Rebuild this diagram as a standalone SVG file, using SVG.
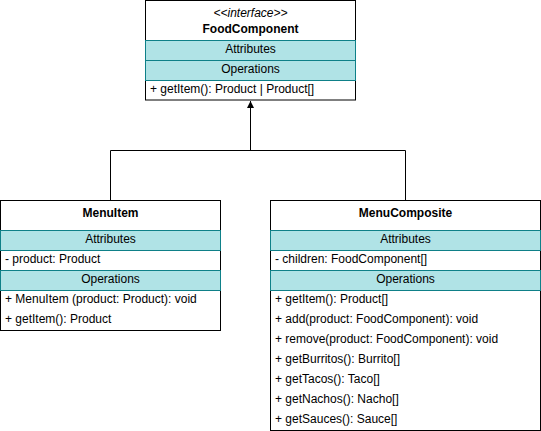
<svg xmlns="http://www.w3.org/2000/svg" width="541" height="431" viewBox="0 0 541 431">
<style>
.box{fill:#ffffff;stroke:#000000;stroke-width:1}
.band{fill:#b0e3e6;stroke:#0e8088;stroke-width:1}
text{font-family:"Liberation Sans",Arial,sans-serif;font-size:12px;fill:#000000}
.c{text-anchor:middle}
.b{font-weight:bold}
.i{font-style:italic}
.conn{fill:none;stroke:#000000;stroke-width:1}
</style>
<defs>
<marker id="arr" viewBox="0 0 10 10" refX="10" refY="5" markerWidth="7" markerHeight="7" orient="auto" markerUnits="userSpaceOnUse">
<path d="M0,0 L10,5 L0,10 z" fill="#000000"/>
</marker>
</defs>
<g id="connectors">
<path class="conn" d="M110.5,200 L110.5,150.5 L405.5,150.5 L405.5,200" />
<path class="conn" d="M250.5,150.5 L250.5,101" marker-end="url(#arr)"/>
</g>
<g id="FoodComponent">
<rect class="box" x="145.5" y="0.5" width="210" height="99.5"/>
<text class="c i" x="250.5" y="17">&lt;&lt;interface&gt;&gt;</text>
<text class="c b" x="250.5" y="33">FoodComponent</text>
<rect class="band" x="145.5" y="40.5" width="210" height="20"/>
<text class="c" x="250.5" y="53">Attributes</text>
<rect class="band" x="145.5" y="60.5" width="210" height="20"/>
<text class="c" x="250.5" y="73">Operations</text>
<text x="150" y="93">+ getItem(): Product | Product[]</text>
</g>
<g id="MenuItem">
<rect class="box" x="0.5" y="200.5" width="220" height="130"/>
<text class="c b" x="110.5" y="217">MenuItem</text>
<rect class="band" x="0.5" y="230.5" width="220" height="20"/>
<text class="c" x="110.5" y="243">Attributes</text>
<text x="5" y="263">- product: Product</text>
<rect class="band" x="0.5" y="270.5" width="220" height="20"/>
<text class="c" x="110.5" y="283">Operations</text>
<text x="5" y="303">+ MenuItem (product: Product): void</text>
<text x="5" y="323">+ getItem(): Product</text>
</g>
<g id="MenuComposite">
<rect class="box" x="270.5" y="200.5" width="270" height="230"/>
<text class="c b" x="405.5" y="217">MenuComposite</text>
<rect class="band" x="270.5" y="230.5" width="270" height="20"/>
<text class="c" x="405.5" y="243">Attributes</text>
<text x="275" y="263">- children: FoodComponent[]</text>
<rect class="band" x="270.5" y="270.5" width="270" height="20"/>
<text class="c" x="405.5" y="283">Operations</text>
<text x="275" y="303">+ getItem(): Product[]</text>
<text x="275" y="323">+ add(product: FoodComponent): void</text>
<text x="275" y="343">+ remove(product: FoodComponent): void</text>
<text x="275" y="363">+ getBurritos(): Burrito[]</text>
<text x="275" y="383">+ getTacos(): Taco[]</text>
<text x="275" y="403">+ getNachos(): Nacho[]</text>
<text x="275" y="423">+ getSauces(): Sauce[]</text>
</g>
</svg>
